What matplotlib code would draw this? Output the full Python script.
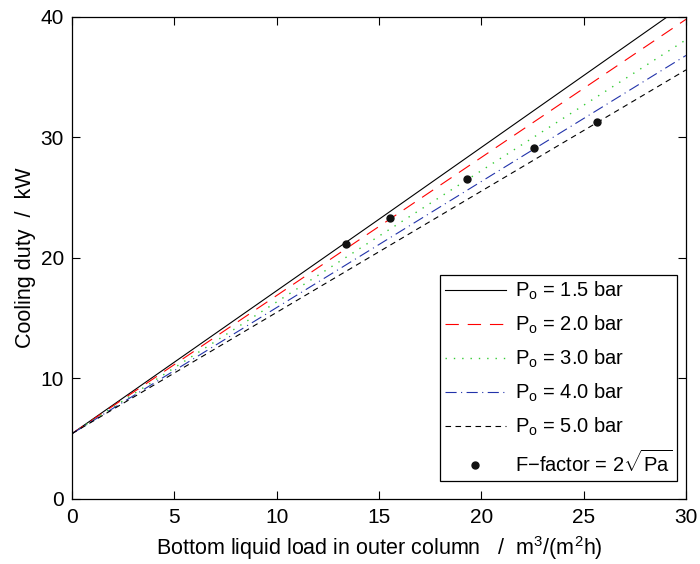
import matplotlib
matplotlib.use("Agg")
import matplotlib.pyplot as plt

plt.rcParams["font.family"] = ["Liberation Sans", "DejaVu Sans"]
plt.rcParams["mathtext.fontset"] = "custom"
plt.rcParams["mathtext.rm"] = "Liberation Sans"
plt.rcParams["mathtext.it"] = "Liberation Sans:italic"
plt.rcParams["mathtext.bf"] = "Liberation Sans:bold"

# Liquid load (m3/(m2 h)) and cooling duty (kW) for each column pressure
load = [0, 15, 30]
duty_1p5 = [5.4, 23.2, 41.1]
duty_2p0 = [5.4, 22.6, 39.8]
duty_3p0 = [5.4, 21.8, 38.1]
duty_4p0 = [5.4, 21.1, 36.8]
duty_5p0 = [5.4, 20.5, 35.6]

# Operating points at an F-factor of 2 sqrt(Pa)
f_load = [13.37, 15.55, 19.28, 22.57, 25.65]
f_duty = [21.16, 23.27, 26.54, 29.1, 31.26]

labels = ["1.5", "2.0", "3.0", "4.0", "5.0"]

fig = plt.figure(figsize=(7.0, 5.64), dpi=100)
ax = fig.add_axes([0.103, 0.116, 0.877, 0.854])

ax.plot(load, duty_1p5, color="black", lw=0.8, ls="-",
        label=r"$\mathregular{P_o}$ = %s bar" % labels[0])
ax.plot(load, duty_2p0, color="#ff0000", lw=0.8, ls=(0, (12, 8)),
        label=r"$\mathregular{P_o}$ = %s bar" % labels[1])
ax.plot(load, duty_3p0, color="#33cc33", lw=1.0, ls=(0, (1, 5)),
        label=r"$\mathregular{P_o}$ = %s bar" % labels[2])
ax.plot(load, duty_4p0, color="#2233aa", lw=0.8, ls=(0, (10, 4, 1, 4)),
        label=r"$\mathregular{P_o}$ = %s bar" % labels[3])
ax.plot(load, duty_5p0, color="black", lw=0.8, ls=(0, (5, 4)),
        label=r"$\mathregular{P_o}$ = %s bar" % labels[4])
ax.plot(f_load, f_duty, ls="none", marker="o", ms=5, color="#111111",
        label=r"F$-$factor = 2$\sqrt{\mathregular{Pa}}$")

ax.set_xlim(0, 30)
ax.set_ylim(0, 40)
ax.set_xticks([0, 5, 10, 15, 20, 25, 30])
ax.set_yticks([0, 10, 20, 30, 40])
ax.tick_params(direction="in", top=True, right=True, length=6, width=0.8,
               labelsize=15, pad=6)
ax.tick_params(axis="x", pad=7)
for s in ax.spines.values():
    s.set_linewidth(0.9)

ax.set_xlabel(r"Bottom liquid load in outer column   /  m$^3$/(m$^2$h)",
              fontsize=15.5, labelpad=5)
ax.set_ylabel("Cooling duty  /  kW", fontsize=15.5, labelpad=3)

leg = ax.legend(loc="lower right", bbox_to_anchor=(0.985, 0.036),
                borderaxespad=0, fontsize=14.5, frameon=True, fancybox=False,
                edgecolor="black", framealpha=1, handlelength=3.0,
                handletextpad=0.45, labelspacing=0.58, borderpad=0.25)
leg.get_frame().set_linewidth(0.9)

fig.savefig("out.png", dpi=100)
